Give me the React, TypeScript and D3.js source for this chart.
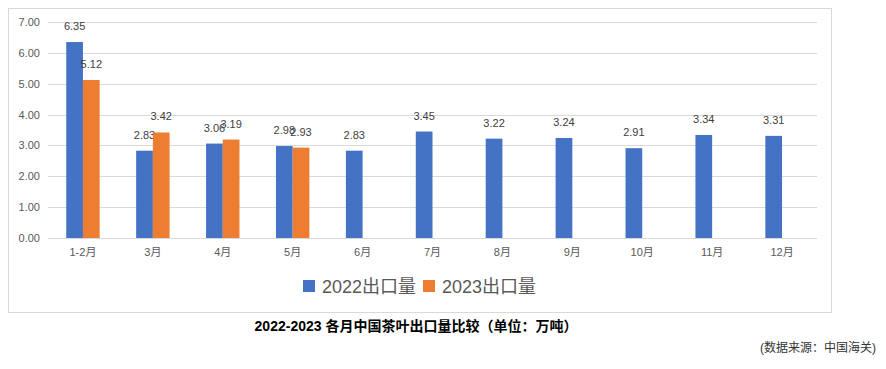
import React, { useEffect, useRef } from 'react';
import * as d3 from 'd3';

const months = ['1-2月', '3月', '4月', '5月', '6月', '7月', '8月', '9月', '10月', '11月', '12月'];
const export2022 = [6.35, 2.83, 3.06, 2.98, 2.83, 3.45, 3.22, 3.24, 2.91, 3.34, 3.31];
const export2023 = [5.12, 3.42, 3.19, 2.93];
const yTicks = [0, 1, 2, 3, 4, 5, 6, 7];
const seriesNames = ['2022出口量', '2023出口量'];
const colors = ['#4472c4', '#ed7d31'];

const W = 886;
const H = 369;
const FONT = '"Liberation Sans", "Noto Sans CJK SC", sans-serif';

const App: React.FC = () => {
  const ref = useRef<SVGSVGElement | null>(null);

  useEffect(() => {
    if (!ref.current) return;
    const svg = d3.select(ref.current);
    svg.selectAll('*').remove();

    const margin = { left: 48, right: 817, top: 22, bottom: 238 };

    // chart frame
    svg
      .append('rect')
      .attr('x', 8.5)
      .attr('y', 8.5)
      .attr('width', 823)
      .attr('height', 304)
      .attr('fill', '#fff')
      .attr('stroke', '#d9d9d9');

    const x = d3.scaleBand<string>().domain(months).range([margin.left, margin.right]);
    const y = d3.scaleLinear().domain([0, 7]).range([margin.bottom, margin.top]);
    const barW = x.bandwidth() * 0.239;

    // grid + y labels
    const g = svg.append('g');
    g.selectAll('line.grid')
      .data(yTicks)
      .enter()
      .append('line')
      .attr('x1', margin.left)
      .attr('x2', margin.right)
      .attr('y1', (d) => Math.round(y(d)) + 0.5)
      .attr('y2', (d) => Math.round(y(d)) + 0.5)
      .attr('stroke', '#d9d9d9');

    g.selectAll('text.ylab')
      .data(yTicks)
      .enter()
      .append('text')
      .attr('x', 40)
      .attr('y', (d) => y(d) + 4)
      .attr('text-anchor', 'end')
      .attr('font-size', 11)
      .attr('font-family', FONT)
      .attr('fill', '#595959')
      .text((d) => d.toFixed(2));

    // x labels
    g.selectAll('text.xlab')
      .data(months)
      .enter()
      .append('text')
      .attr('x', (d) => (x(d) as number) + x.bandwidth() / 2)
      .attr('y', 256)
      .attr('text-anchor', 'middle')
      .attr('font-size', 11)
      .attr('font-family', FONT)
      .attr('fill', '#595959')
      .text((d) => d);

    const series = [export2022, export2023];
    series.forEach((vals, si) => {
      const bx = (i: number) =>
        (x(months[i]) as number) + x.bandwidth() / 2 - barW + si * barW;
      g.selectAll(`rect.s${si}`)
        .data(vals)
        .enter()
        .append('rect')
        .attr('x', (_, i) => bx(i))
        .attr('y', (d) => y(d))
        .attr('width', barW)
        .attr('height', (d) => y(0) - y(d))
        .attr('fill', colors[si]);

      g.selectAll(`text.v${si}`)
        .data(vals)
        .enter()
        .append('text')
        .attr('x', (_, i) => bx(i) + barW / 2)
        .attr('y', (d) => y(d) - 12)
        .attr('text-anchor', 'middle')
        .attr('font-size', 11)
        .attr('font-family', FONT)
        .attr('fill', '#404040')
        .text((d) => d.toFixed(2));
    });

    // legend
    const legendX = [303, 423];
    seriesNames.forEach((name, i) => {
      svg
        .append('rect')
        .attr('x', legendX[i])
        .attr('y', 280)
        .attr('width', 12)
        .attr('height', 12)
        .attr('fill', colors[i]);
      svg
        .append('text')
        .attr('x', legendX[i] + 19)
        .attr('y', 293)
        .attr('font-size', 18)
        .attr('font-family', FONT)
        .attr('fill', '#595959')
        .text(name);
    });

    // title
    svg
      .append('text')
      .attr('x', 416)
      .attr('y', 331)
      .attr('text-anchor', 'middle')
      .attr('font-size', 14)
      .attr('font-weight', 'bold')
      .attr('font-family', FONT)
      .attr('fill', '#000')
      .text('2022-2023 各月中国茶叶出口量比较（单位：万吨）');

    svg
      .append('text')
      .attr('x', 876)
      .attr('y', 352)
      .attr('text-anchor', 'end')
      .attr('font-size', 12)
      .attr('font-family', FONT)
      .attr('fill', '#333')
      .text('(数据来源：中国海关)');
  }, []);

  return (
    <div style={{ position: 'fixed', left: 0, top: 0 }}>
      <svg ref={ref} width={W} height={H} style={{ display: 'block', background: '#fff' }}></svg>
    </div>
  );
};

export default App;
